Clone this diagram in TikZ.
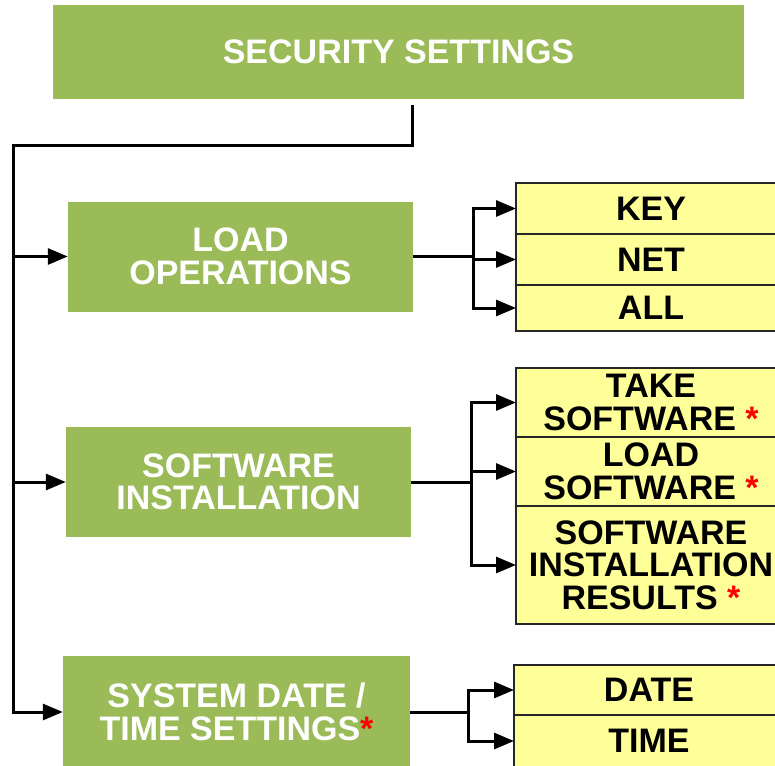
\documentclass[tikz,border=0pt]{standalone}
\usepackage{fontspec}
\setmainfont{Liberation Sans}
\usepackage{xcolor}
\usetikzlibrary{arrows.meta,positioning}
\definecolor{grpgreen}{HTML}{9BBB59}
\definecolor{itemyellow}{HTML}{FFFF99}
\newcommand{\rstar}{\textcolor{red}{*}}

\begin{document}
\begin{tikzpicture}[x=1pt, y=-1pt,
    font=\fontsize{34}{32.5}\selectfont\bfseries,
    grp/.style={fill=grpgreen, text=white, align=center, minimum width=345pt, minimum height=110pt, inner sep=2pt},
    item/.style={draw=black!85, line width=1.2pt, fill=itemyellow, align=center, minimum width=270pt, inner sep=1pt, outer sep=0pt, anchor=north west},
    conn/.style={line width=3pt},
    arr/.style={conn, -{Triangle[length=20pt,width=16pt]}},
]
\useasboundingbox (0,0) rectangle (775,765);
\clip (0,0) rectangle (775,765);

% main groups
\node[grp, minimum width=691pt, minimum height=94pt] (sec) at (398.5,52) {SECURITY SETTINGS};
\node[grp] (load) at (240.5,256.5) {LOAD\\OPERATIONS};
\node[grp] (soft) at (238.5,482) {SOFTWARE\\INSTALLATION};
\node[grp, minimum width=347pt, minimum height=112pt] (sys) at (236.5,712) {SYSTEM DATE /\\TIME SETTINGS\rstar};

% load operations items
\node[item, minimum height=51pt] (key) at (516,183) {KEY};
\node[item, minimum height=51pt, below=0pt of key] (net) {NET};
\node[item, minimum height=46pt, below=0pt of net] (all) {ALL};

% software installation items
\node[item, minimum height=69pt] (take) at (516,368) {TAKE\\SOFTWARE \rstar};
\node[item, minimum height=69pt, below=0pt of take] (loadsw) {LOAD\\SOFTWARE \rstar};
\node[item, minimum height=118pt, below=0pt of loadsw] (results) {SOFTWARE\\INSTALLATION\\RESULTS \rstar};

% date / time items
\node[item, minimum height=50pt] (date) at (514,665) {DATE};
\node[item, minimum height=52pt, below=0pt of date] (time) {TIME};

% trunk from the top box
\coordinate (bend) at (13,145);
\draw[arr] ([xshift=14pt,yshift=-6pt]sec.south) |- (bend) |- (sys.west);
\draw[arr] (bend |- load.west) -- (load.west);
\draw[arr] (bend |- soft.west) -- (soft.west);

% branches to the items
\coordinate[right=60pt of load.east] (jl);
\draw[conn] (load.east) -- (jl);
\draw[arr] (jl) |- (key.west);
\draw[arr] (jl) |- (net.west);
\draw[arr] (jl) |- (all.west);

\coordinate[right=60pt of soft.east] (js);
\draw[conn] (soft.east) -- (js);
\draw[arr] (js) |- (take.west);
\draw[arr] (js) |- (loadsw.west);
\draw[arr] (js) |- (results.west);

\coordinate[right=58pt of sys.east] (jd);
\draw[conn] (sys.east) -- (jd);
\draw[arr] (jd) |- (date.west);
\draw[arr] (jd) |- (time.west);
\end{tikzpicture}
\end{document}
